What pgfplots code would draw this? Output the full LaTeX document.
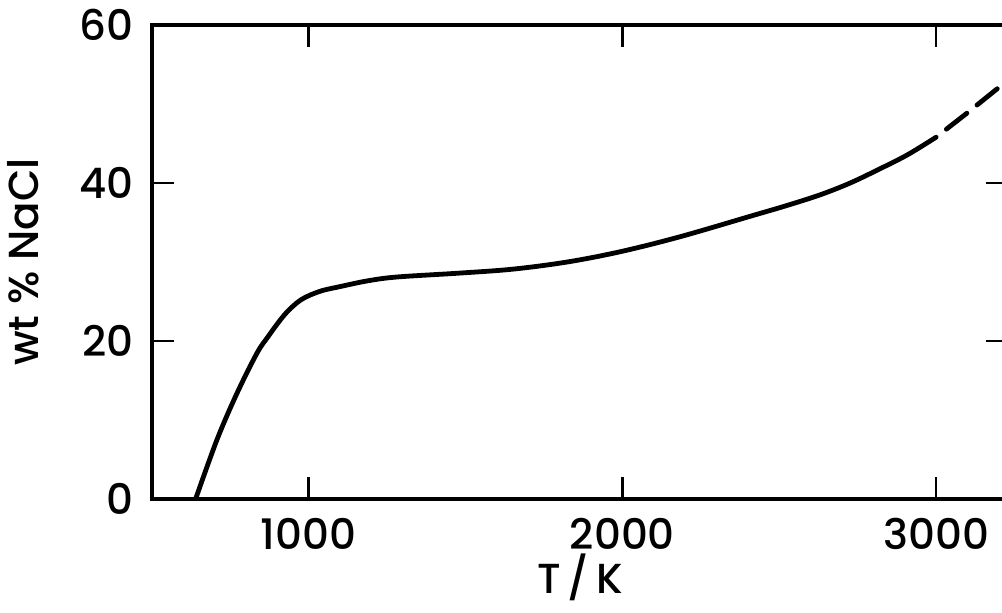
\documentclass[border=0pt]{standalone}
\usepackage{pgfplots}
\pgfplotsset{compat=1.18}
\usepackage{fontspec}
\setmainfont{Poppins Medium}

\begin{document}
\begin{tikzpicture}
\begin{axis}[
  at={(0,0)}, anchor=south west,
  scale only axis,
  width=428.3pt, height=237pt,
  xmin=500, xmax=3230, ymin=0, ymax=60,
  xtick={1000,2000,3000}, ytick={0,20,40,60},
  axis line style={line width=2pt, line cap=round},
  tick style={line width=1.2pt, black},
  tick align=inside, major tick length=11pt,
  xtick pos=both, ytick pos=both,
  xticklabel pos=bottom, yticklabel pos=left,
  font=\fontsize{21}{24}\selectfont,
  /pgf/number format/assume math mode=true,
  /pgf/number format/1000 sep={},
  xticklabel style={anchor=north, inner sep=0pt, yshift=-9.5pt},
  yticklabel style={anchor=east, inner sep=0pt, xshift=-8.8pt},
  xlabel={T\,/\,K}, ylabel={wt \% NaCl},
  xlabel style={at={(axis description cs:0.5,-0.165)}, anchor=center, inner sep=0pt},
  ylabel style={at={(axis description cs:-0.15,0.5)}, anchor=center, inner sep=0pt},
]
\addplot[black, line width=2.4pt, line cap=round, smooth, tension=0.55] coordinates {
  (640,0) (708,7.5) (772,13.4) (836,18.5) (870,20.5) (899,22.1) (925,23.4)
  (950,24.4) (975,25.2) (1004,25.8) (1045,26.4) (1090,26.8) (1186,27.6)
  (1281,28.1) (1483,28.6) (1652,29.1) (1824,30.0) (1993,31.3) (2184,33.2)
  (2417,35.9) (2520,37.1) (2630,38.5) (2726,40.0) (2821,41.8) (2910,43.6)
  (3000,45.8)
};
\addplot[black, line width=2.4pt, line cap=round, dash pattern=on 13pt off 6.5pt, dash phase=13pt] coordinates {
  (3000,45.8) (3100,48.9) (3200,52.1)
};
\end{axis}
\pgfresetboundingbox
\useasboundingbox (-75.85pt,-56.5pt) rectangle (425.15pt,249.5pt);
\end{tikzpicture}
\end{document}
